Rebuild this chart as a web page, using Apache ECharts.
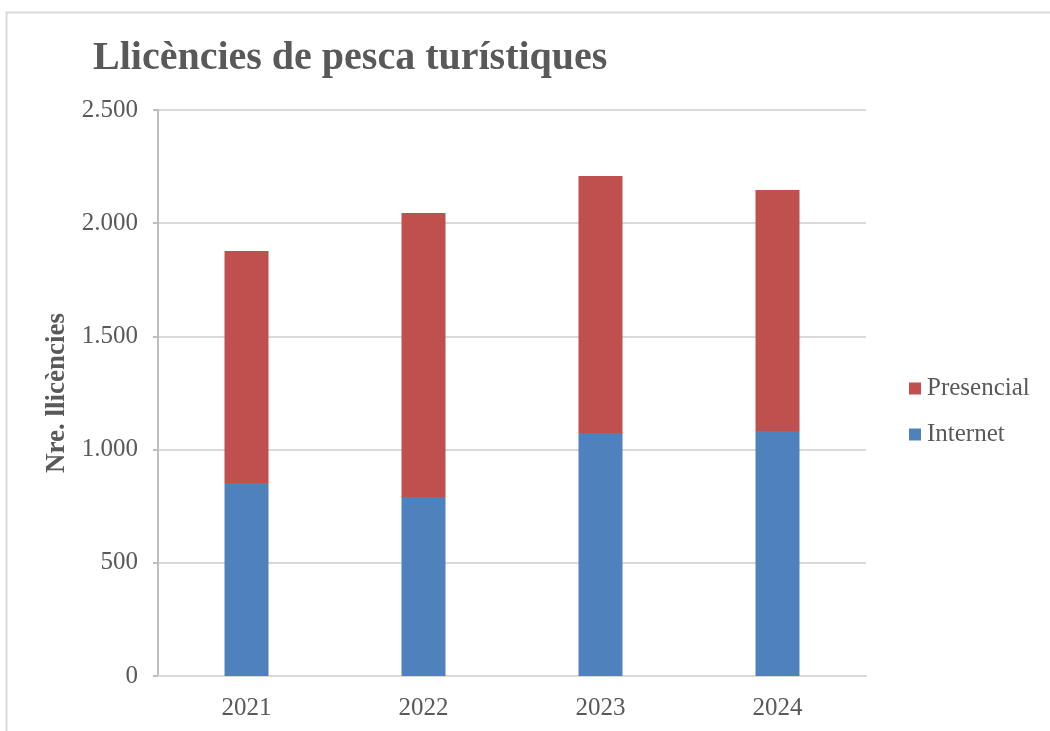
<!DOCTYPE html>
<html>
<head>
<meta charset="utf-8">
<script src="https://cdn.jsdelivr.net/npm/echarts@6/dist/echarts.min.js"></script>
<style>
  html, body { margin: 0; padding: 0; background: #fff; }
  #chart { width: 1050px; height: 731px; }
</style>
</head>
<body>
<div id="chart"></div>
<script>
const years = ['2021', '2022', '2023', '2024']
const internet = [852, 791, 1073, 1082]
const presencial = [1025, 1254, 1135, 1065]
const yTicks = [0, 500, 1000, 1500, 2000, 2500]

const FONT = '"Liberation Serif", "DejaVu Serif", serif'
const GREY = '#595959'

let myChart = echarts.init(document.getElementById('chart'))

myChart.setOption({
  animation: false,
  textStyle: { fontFamily: FONT },
  graphic: [{
    type: 'rect',
    shape: { x: 6.5, y: 12.5, width: 1100, height: 800 },
    style: { fill: 'none', stroke: '#d9d9d9', lineWidth: 2 },
    silent: true
  }],
  title: {
    text: 'Llicències de pesca turístiques',
    left: 88,
    top: 34,
    textStyle: { fontFamily: FONT, fontSize: 40, fontWeight: 'bold', color: GREY }
  },
  legend: {
    orient: 'vertical',
    left: 909,
    top: 376,
    padding: 0,
    itemWidth: 12,
    itemHeight: 12,
    itemGap: 21,
    icon: 'rect',
    data: ['Presencial', 'Internet'],
    textStyle: { fontFamily: FONT, fontSize: 25, color: GREY, padding: [0, 0, 0, 1] }
  },
  grid: { left: 158, right: 184, top: 110, bottom: 55 },
  xAxis: {
    type: 'category',
    data: years,
    axisLine: { lineStyle: { color: '#d9d9d9', width: 2 } },
    axisTick: { show: false },
    axisLabel: { fontFamily: FONT, fontSize: 25, color: GREY, margin: 20 }
  },
  yAxis: {
    type: 'value',
    min: yTicks[0],
    max: yTicks[yTicks.length - 1],
    interval: 500,
    name: 'Nre. llicències',
    nameLocation: 'middle',
    nameGap: 85,
    nameTextStyle: { fontFamily: FONT, fontSize: 27, fontWeight: 'bold', color: GREY },
    axisLine: { show: true, lineStyle: { color: '#bfbfbf', width: 2 } },
    axisTick: { show: true, length: 5, lineStyle: { color: '#bfbfbf', width: 2 } },
    splitLine: { lineStyle: { color: '#d9d9d9', width: 2 } },
    axisLabel: {
      fontFamily: FONT, fontSize: 25, color: GREY, margin: 20,
      formatter: v => String(v).replace(/\B(?=(\d{3})+(?!\d))/g, '.')
    }
  },
  series: [
    {
      name: 'Internet',
      type: 'bar',
      stack: 'total',
      data: internet,
      barWidth: 44,
      itemStyle: { color: '#4F81BD' }
    },
    {
      name: 'Presencial',
      type: 'bar',
      stack: 'total',
      data: presencial,
      barWidth: 44,
      itemStyle: { color: '#C0504D' }
    }
  ]
})
</script>
</body>
</html>
